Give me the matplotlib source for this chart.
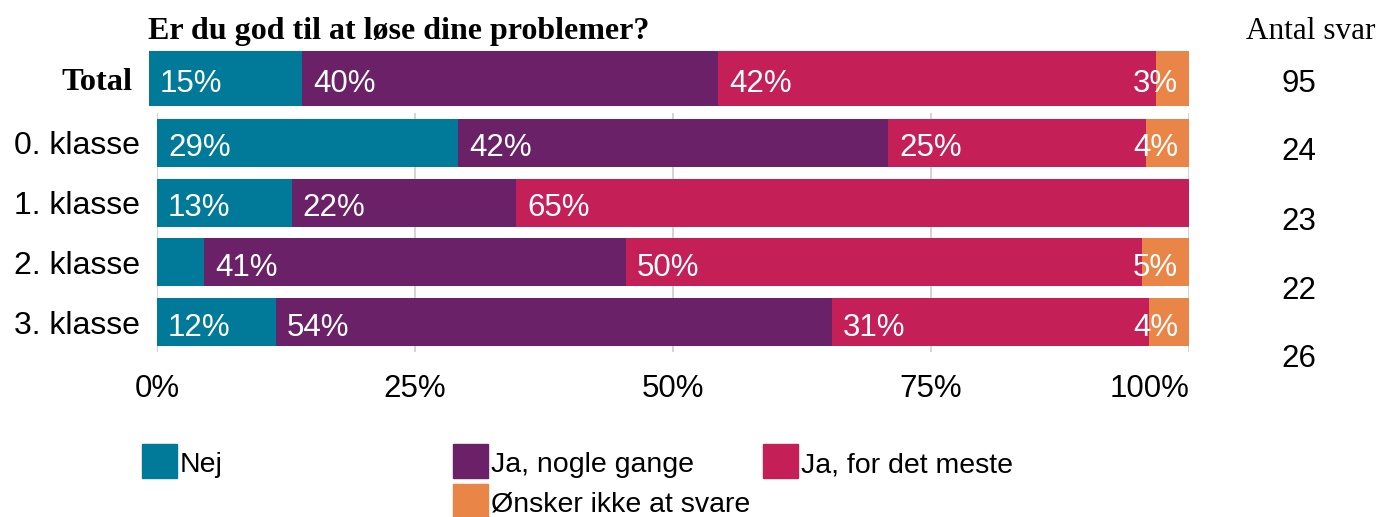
import matplotlib
matplotlib.use('Agg')
import numpy as np
import matplotlib.pyplot as plt
from matplotlib.patches import Rectangle
from matplotlib.transforms import ScaledTranslation

# ── Data ─────────────────────────────────────────────────────────────────────
groups   = ['0. klasse', '1. klasse', '2. klasse', '3. klasse']
answers  = ['Nej', 'Ja, nogle gange', 'Ja, for det meste', 'Ønsker ikke at svare']
colors   = ['#017A99', '#6A2167', '#C41F57', '#EA8548']

# response counts per answer (Nej, Ja nogle, Ja for det meste, Ønsker ikke)
total_counts = [14, 38, 40, 3]
group_counts = [[7, 10, 6, 1],
                [3, 5, 15, 0],
                [1, 9, 11, 1],
                [3, 14, 8, 1]]
n_total  = 95
n_groups = [24, 23, 22, 26]

title = 'Er du god til at løse dine problemer?'

SANS  = 'Liberation Sans'
SERIF = 'Liberation Serif'
FS    = 22.5
W, H  = 1379, 517

plt.rcParams['font.family'] = SANS

fig = plt.figure(figsize=(W / 100, H / 100), dpi=100)
down = ScaledTranslation(0, -0.035, fig.dpi_scale_trans)


def pct(counts):
    c = np.array(counts, dtype=float)
    return c / c.sum() * 100


def draw_row(ax, y, vals, height):
    left = 0
    last = max(i for i, v in enumerate(vals) if v > 0)
    for i, v in enumerate(vals):
        if v <= 0:
            continue
        ax.barh(y, v, left=left, height=height, color=colors[i], zorder=2)
        lab = f'{int(v + 0.5)}%'
        if i == last and left + v > 99.9 and v < 8:
            ax.annotate(lab, (left + v, y), xytext=(-8, -4), textcoords='offset points',
                        ha='right', va='center', color='white', fontsize=FS, zorder=3)
        elif v >= 6:
            ax.annotate(lab, (left, y), xytext=(8, -4), textcoords='offset points',
                        ha='left', va='center', color='white', fontsize=FS, zorder=3)
        left += v


# ── Group bars ───────────────────────────────────────────────────────────────
ax = fig.add_axes([157 / W, 1 - 352 / H, 1032 / W, 239 / H])
for k, cnt in enumerate(group_counts):
    draw_row(ax, k, pct(cnt), 0.8)
ax.set_xlim(0, 100)
ax.set_ylim(3.5, -0.5)
ax.set_xticks([0, 25, 50, 75, 100])
ax.set_xticklabels(['0%', '25%', '50%', '75%', '100%'], fontsize=FS)
ax.get_xticklabels()[-1].set_ha('right')
ax.set_yticks(range(len(groups)))
ax.set_yticklabels(groups, fontsize=23)
for lab in ax.get_yticklabels():
    lab.set_transform(lab.get_transform() + down)
ax.tick_params(axis='x', length=0, pad=16)
ax.tick_params(axis='y', length=0, pad=12)
ax.grid(True, axis='x', color='#d0d0d0', linewidth=1.3, zorder=0)
ax.set_axisbelow(True)
for s in ax.spines.values():
    s.set_visible(False)

# ── Total bar ────────────────────────────────────────────────────────────────
axt = fig.add_axes([149 / W, 1 - 106 / H, 1040 / W, 55 / H])
draw_row(axt, 0, pct(total_counts), 1.0)
axt.set_xlim(0, 100)
axt.set_ylim(-0.5, 0.5)
axt.set_xticks([])
axt.set_yticks([0])
axt.set_yticklabels(['Total'], fontsize=23.4, fontfamily=SERIF, fontweight='bold')
for lab in axt.get_yticklabels():
    lab.set_transform(lab.get_transform() + down)
axt.tick_params(axis='y', length=0, pad=12)
for s in axt.spines.values():
    s.set_visible(False)

# ── Title and counts ─────────────────────────────────────────────────────────
fig.text(148 / W, 1 - 39 / H, title, fontsize=23, fontfamily=SERIF,
         fontweight='bold', ha='left', va='baseline')
fig.text(1375 / W, 1 - 39 / H, 'Antal svar', fontsize=22.5, fontfamily=SERIF,
         ha='right', va='baseline')
count_y = [84, 152, 222, 291, 359]
for yy, n in zip(count_y, [n_total] + n_groups):
    fig.text(1299 / W, 1 - yy / H, str(n), fontsize=FS, ha='center', va='center')

# ── Legend ───────────────────────────────────────────────────────────────────
leg_pos = [(142, 444), (453, 444), (763, 444), (453, 484)]
for (lx, ly), lab, c in zip(leg_pos, answers, colors):
    fig.add_artist(Rectangle((lx / W, 1 - (ly + 34) / H), 35 / W, 34 / H,
                             transform=fig.transFigure, color=c))
    fig.text((lx + 38) / W, 1 - (ly + 21) / H, lab, fontsize=20.5,
             ha='left', va='center')

fig.savefig('out.png', dpi=100)
